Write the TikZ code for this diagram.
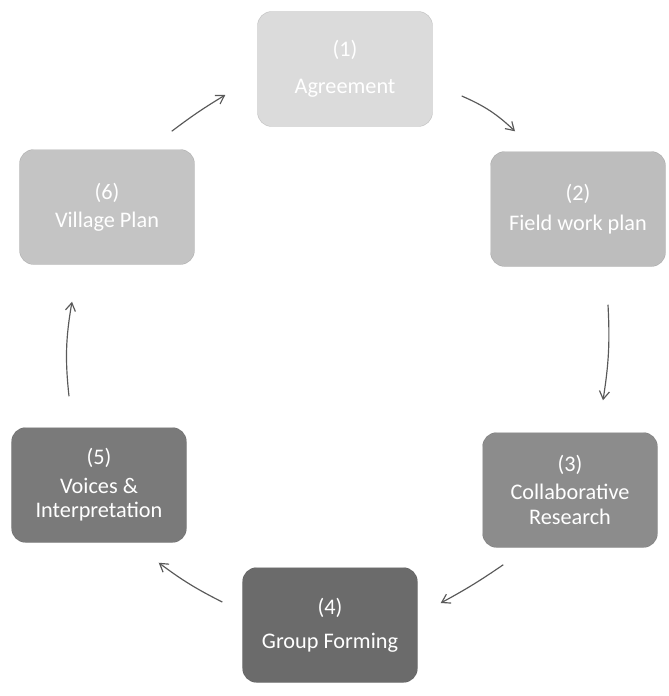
\documentclass[tikz,border=0pt]{standalone}
\usepackage{fontspec}
\setmainfont{Carlito}
\usetikzlibrary{arrows.meta}
\tikzset{box/.style={rectangle,rounded corners=12pt,fill=black!#1,draw=black,draw opacity=.15,text=white,
  minimum width=5.25cm,minimum height=3.45cm,align=center,font=\fontsize{19}{24}\selectfont}}
\begin{document}
\begin{tikzpicture}[>={Straight Barb[length=2.4mm,width=3mm]}, x=0.03cm, y=-0.03cm]
\useasboundingbox (0,0) rectangle (668,696);
\node[box=14] (agr) at (345,69){(1)\\[8pt]Agreement};
\node[box=26] (fwp) at (578,209){(2)\\[2pt]Field work plan};
\node[box=45] (col) at (570,490){(3)\\Collaborative\\[-3pt]Research};
\node[box=58] (grp) at (330,625){(4)\\[5pt]Group Forming};
\node[box=52] (voi) at (99,485){(5)\\Voices \&\\[-3pt]Interpretation};
\node[box=23] (vil) at (107,207){(6)\\Village Plan};
\begin{scope}[draw=black!65,line width=1pt]
\draw[->]([shift={(29,27)}]agr.east) to[bend left=10] ([shift={(-63,-20)}]fwp.north);
\draw[->]([shift={(30,38)}]fwp.south) to[bend left=6] ([shift={(33,-32)}]col.north);
\draw[->]([shift={(21,17)}]col.south west) to[bend left=3] ([shift={(23,-22)}]grp.east);
\draw[->]([shift={(-20,-23)}]grp.west) to[bend left=5] ([shift={(-28,20)}]voi.south east);
\draw[->]([shift={(-30,-31)}]voi.north) to[bend left=8] ([shift={(-35,37)}]vil.south);
\draw[->]([shift={(-23,-18)}]vil.north east) to[bend left=3] ([shift={(-32,26)}]agr.west);
\end{scope}
\end{tikzpicture}
\end{document}
